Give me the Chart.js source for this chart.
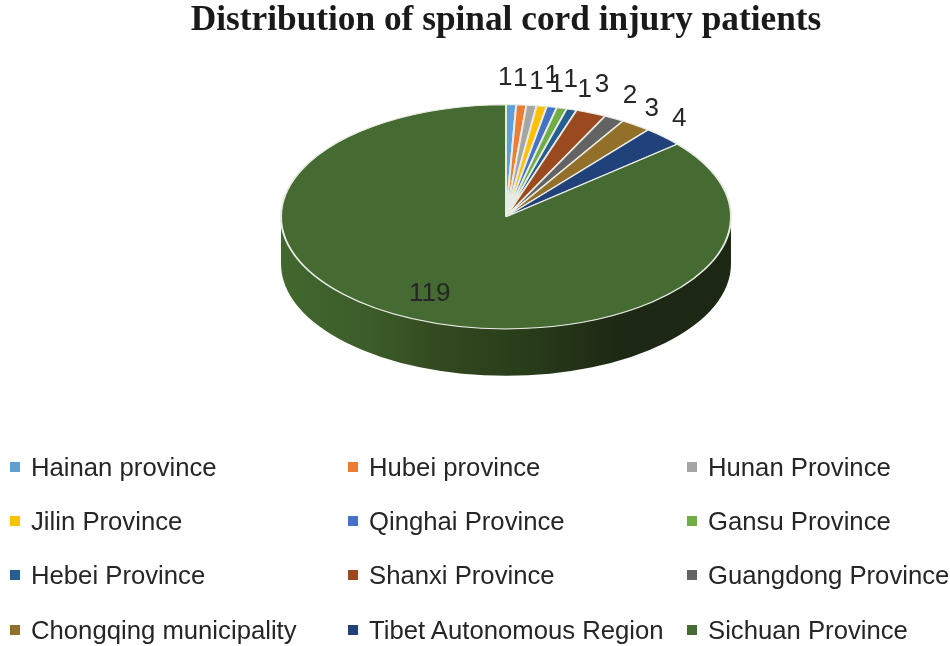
<!DOCTYPE html>
<html>
<head>
<meta charset="utf-8">
<title>Distribution of spinal cord injury patients</title>
<script src="https://cdn.jsdelivr.net/npm/chart.js@4/dist/chart.umd.min.js"></script>
<style>
  html, body { margin: 0; padding: 0; background: #fff; }
  #wrap { position: relative; width: 950px; height: 646px; overflow: hidden; }
  #pie { display: block; }
  .key { position: absolute; font: 25.7px "Liberation Sans", Arial, sans-serif; color: #262626; line-height: 28px; white-space: nowrap; }
  .key i { position: absolute; left: -21px; top: 9px; width: 10px; height: 10px; }
</style>
</head>
<body>
<div id="wrap"><canvas id="pie" width="950" height="646"></canvas></div>
<script>
var provinces = ["Hainan province", "Hubei province", "Hunan Province", "Jilin Province", "Qinghai Province", "Gansu Province",
  "Hebei Province", "Shanxi Province", "Guangdong Province", "Chongqing municipality", "Tibet Autonomous Region", "Sichuan Province"];
var patients = [1, 1, 1, 1, 1, 1, 1, 3, 2, 3, 4, 119];
var sliceColors = ["#5F9FD8", "#ED7D31", "#A5A5A5", "#FFC000", "#4472C4", "#70AD47", "#255E91", "#9B4A20", "#636363", "#927029", "#21417A", "#456A32"];
var titleText = "Distribution of spinal cord injury patients";

// tilt of the disc and height of its rim
var TILT = 0.498, RIM = 47;
// data labels sit by hand in the original, shift from the rim point of each slice
var labelShift = [[-6, -27], [-1, -26], [5, -24], [10, -30], [5, -22], [9, -28], [13, -20], [11, -28], [16, -23], [16, -16], [16, -18], [18, -25]];
var keyCols = [31, 369, 708], keyRows = [453, 507, 561, 616];

var tiltPlugin = {
  id: "tilt",
  beforeDatasetDraw: function (chart) {
    var ctx = chart.ctx, arc = chart.getDatasetMeta(0).data[0];
    var rx = arc.outerRadius, ry = rx * TILT, cx = arc.x, cy = arc.y;
    // front wall of the disc, only the big slice shows here
    var g = ctx.createLinearGradient(cx - rx, 0, cx + rx, 0);
    g.addColorStop(0, "#41672e");
    g.addColorStop(0.2, "#3c5c29");
    g.addColorStop(0.35, "#33491f");
    g.addColorStop(0.55, "#283c1a");
    g.addColorStop(0.75, "#1d2914");
    g.addColorStop(1, "#1c2814");
    ctx.save();
    ctx.fillStyle = g;
    ctx.beginPath();
    ctx.ellipse(cx, cy, rx, ry, 0, 0, Math.PI);
    ctx.ellipse(cx, cy + RIM, rx, ry, 0, Math.PI, 0, true);
    ctx.closePath();
    ctx.fill();
    ctx.restore();
    ctx.save();
    ctx.translate(0, cy);
    ctx.scale(1, TILT);
    ctx.translate(0, -cy);
  },
  afterDatasetDraw: function (chart) {
    chart.ctx.restore();
  },
  afterDatasetsDraw: function (chart) {
    var ctx = chart.ctx, arcs = chart.getDatasetMeta(0).data;
    ctx.save();
    ctx.font = '26px "Liberation Sans", Arial, sans-serif';
    ctx.fillStyle = "#262626";
    ctx.textAlign = "center";
    ctx.textBaseline = "middle";
    arcs.forEach(function (arc, i) {
      var mid = (arc.startAngle + arc.endAngle) / 2;
      var x = arc.x + arc.outerRadius * Math.cos(mid);
      var y = arc.y + arc.outerRadius * TILT * Math.sin(mid);
      ctx.fillText(String(patients[i]), x + labelShift[i][0], y + labelShift[i][1]);
    });
    ctx.restore();
  }
};

var chart = new Chart(document.getElementById("pie"), {
  type: "pie",
  data: {
    labels: provinces,
    datasets: [{ data: patients, backgroundColor: sliceColors, borderColor: "#e8ebe4", borderWidth: 2, clip: false }]
  },
  options: {
    responsive: false, animation: false, radius: 225,
    layout: { padding: { left: 62, right: 0, top: 0, bottom: 250.7 } },
    plugins: {
      legend: { display: false },
      tooltip: { enabled: false },
      title: { display: true, text: titleText, color: "#1a1a1a", padding: { top: 3, bottom: 0 },
        font: { family: '"Liberation Serif", "Times New Roman", serif', size: 35.3, weight: "bold", lineHeight: 1 } }
    }
  },
  plugins: [tiltPlugin]
});

// legend: three fixed columns, Chart.js legend can't hold these
var wrap = document.getElementById("wrap");
provinces.forEach(function (p, i) {
  var d = document.createElement("div");
  d.className = "key";
  d.style.left = keyCols[i % 3] + "px";
  d.style.top = keyRows[Math.floor(i / 3)] + "px";
  d.innerHTML = "<i style='background:" + sliceColors[i] + "'></i>" + p;
  wrap.appendChild(d);
});
</script>
</body>
</html>
